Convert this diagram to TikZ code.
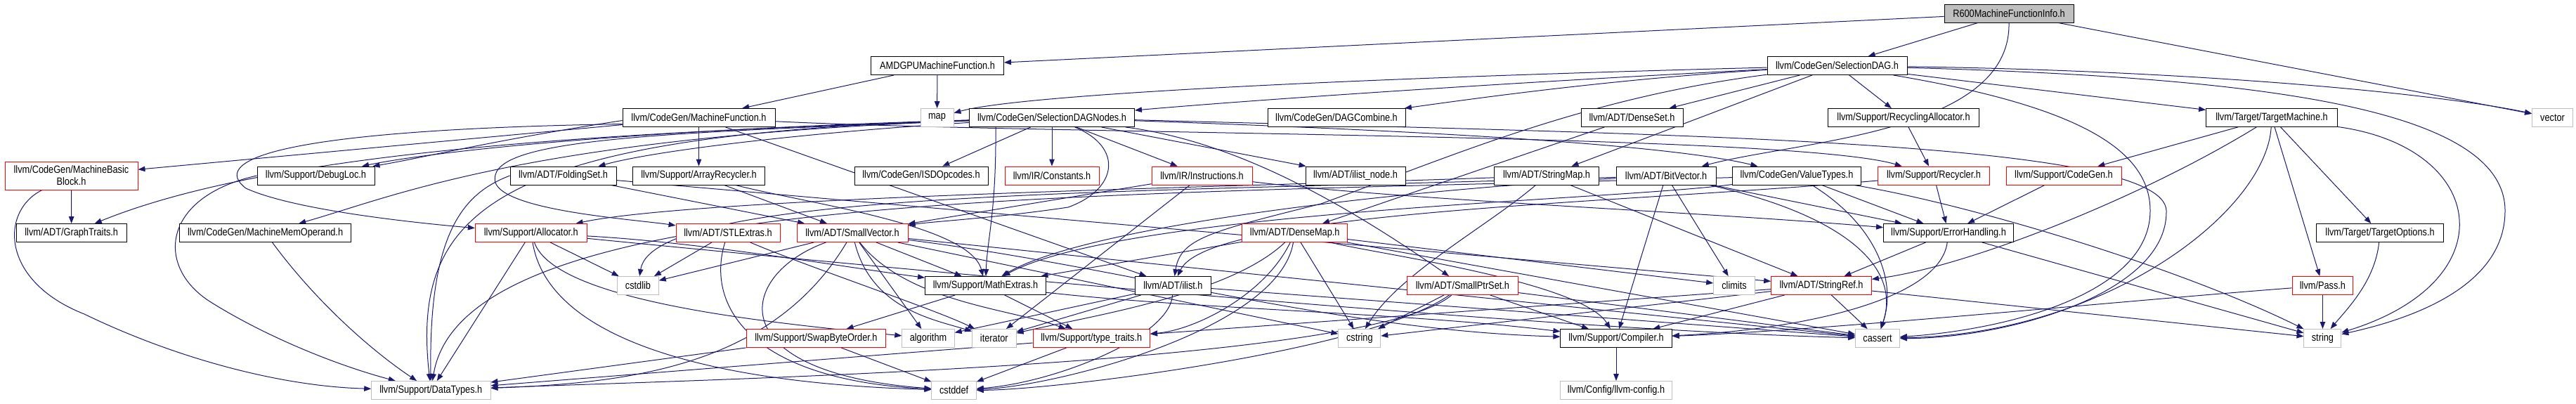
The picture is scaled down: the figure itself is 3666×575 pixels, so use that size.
\documentclass[tikz,border=0pt]{standalone}
\usepackage{fontspec}
\setmainfont{Liberation Sans}[FakeStretch=0.85]
\usetikzlibrary{arrows.meta,backgrounds}
\definecolor{edgec}{HTML}{191970}
\definecolor{gbord}{HTML}{BFBFBF}
\definecolor{rbord}{HTML}{FF0000}
\begin{document}
\begin{tikzpicture}[x=1pt,y=-1pt,
 box/.style={draw=black, fill=white, line width=0.9pt, minimum height=26pt, inner sep=0pt, align=center, font=\fontsize{15pt}{17pt}\selectfont},
 rbox/.style={box, draw=rbord},
 gbox/.style={box, draw=gbord},
 dep/.style={draw=edgec, line width=1pt, -{Triangle[length=10pt,width=7.5pt]}}]
\useasboundingbox (0,0) rectangle (3666,575);
% row 0
\node[box, fill=gbord, minimum width=184pt] (r600) at (2859,19) {R600MachineFunctionInfo.h};
% row 1
\node[box, minimum width=189pt] (amdgpu) at (1334,93.5) {AMDGPUMachineFunction.h};
\node[box, minimum width=199pt] (sdag) at (2614.5,93.5) {llvm/CodeGen/SelectionDAG.h};
% row 2
\node[box, minimum width=217pt] (mf) at (994.5,167.5) {llvm/CodeGen/MachineFunction.h};
\node[gbox, minimum width=47pt] (map) at (1333.5,167.5) {map};
\node[box, minimum width=235pt] (sdn) at (1497,167.5) {llvm/CodeGen/SelectionDAGNodes.h};
\node[box, minimum width=196pt] (dagc) at (1902,167.5) {llvm/CodeGen/DAGCombine.h};
\node[box, minimum width=145pt] (dset) at (2322.5,167.5) {llvm/ADT/DenseSet.h};
\node[box, minimum width=215pt] (recalloc) at (2709,167.5) {llvm/Support/RecyclingAllocator.h};
\node[box, minimum width=187pt] (tm) at (3233,167.5) {llvm/Target/TargetMachine.h};
\node[gbox, minimum width=58pt] (vector) at (3632.5,167.5) {vector};
% row 3
\node[rbox, minimum width=189pt, minimum height=40pt] (mbb) at (101.5,250) {llvm/CodeGen/MachineBasic\\Block.h};
\node[box, minimum width=167pt] (dloc) at (449.5,250) {llvm/Support/DebugLoc.h};
\node[box, minimum width=151pt] (fset) at (801.5,250) {llvm/ADT/FoldingSet.h};
\node[box, minimum width=188pt] (arec) at (994.5,250) {llvm/Support/ArrayRecycler.h};
\node[box, minimum width=190pt] (isd) at (1311,250) {llvm/CodeGen/ISDOpcodes.h};
\node[rbox, minimum width=134pt] (const) at (1497,250) {llvm/IR/Constants.h};
\node[rbox, minimum width=143pt] (instr) at (1710.5,250) {llvm/IR/Instructions.h};
\node[box, minimum width=142pt] (ilnode) at (1929,250) {llvm/ADT/ilist\_node.h};
\node[box, minimum width=149pt] (smap) at (2201,250) {llvm/ADT/StringMap.h};
\node[box, minimum width=142pt] (bitv) at (2371,250) {llvm/ADT/BitVector.h};
\node[box, minimum width=183pt] (vt) at (2557,250) {llvm/CodeGen/ValueTypes.h};
\node[rbox, minimum width=159pt] (recyc) at (2752,250) {llvm/Support/Recycler.h};
\node[rbox, minimum width=164pt] (cg) at (2937,250) {llvm/Support/CodeGen.h};
% row 4
\node[box, minimum width=157pt] (gt) at (101.7,331.5) {llvm/ADT/GraphTraits.h};
\node[box, minimum width=244pt] (mmo) at (377.6,331.5) {llvm/CodeGen/MachineMemOperand.h};
\node[rbox, minimum width=159pt] (alloc) at (755.8,331.5) {llvm/Support/Allocator.h};
\node[rbox, minimum width=148pt] (stl) at (1036,331.5) {llvm/ADT/STLExtras.h};
\node[rbox, minimum width=158pt] (svec) at (1213,331.5) {llvm/ADT/SmallVector.h};
\node[rbox, minimum width=150pt] (dmap) at (1842.7,331.5) {llvm/ADT/DenseMap.h};
\node[box, minimum width=185pt] (errh) at (2773,331.5) {llvm/Support/ErrorHandling.h};
\node[box, minimum width=181pt] (topt) at (3387,331.5) {llvm/Target/TargetOptions.h};
% row 5
\node[gbox, minimum width=58.5pt] (cstdlib) at (908,406.5) {cstdlib};
\node[box, minimum width=172pt] (mathx) at (1402.5,406.5) {llvm/Support/MathExtras.h};
\node[box, minimum width=108pt] (ilist) at (1669.4,406.5) {llvm/ADT/ilist.h};
\node[rbox, minimum width=158.7pt] (sps) at (2081.4,406.5) {llvm/ADT/SmallPtrSet.h};
\node[gbox, minimum width=58.7pt] (climits) at (2468,406.5) {climits};
\node[rbox, minimum width=142.7pt] (sref) at (2592,406.5) {llvm/ADT/StringRef.h};
\node[rbox, minimum width=86.7pt] (pass) at (3305.4,406.5) {llvm/Pass.h};
% row 6
\node[rbox, minimum width=198.7pt] (swap) at (1161.4,481.5) {llvm/Support/SwapByteOrder.h};
\node[gbox, minimum width=74.5pt] (algorithm) at (1321,481.5) {algorithm};
\node[gbox, minimum width=62.5pt] (iterator) at (1414.8,481.5) {iterator};
\node[rbox, minimum width=166.6pt] (tt) at (1553.3,481.5) {llvm/Support/type\_traits.h};
\node[gbox, minimum width=60pt] (cstring) at (1934.8,481.5) {cstring};
\node[box, minimum width=158.4pt] (compiler) at (2300,481.5) {llvm/Support/Compiler.h};
\node[gbox, minimum width=63pt] (cassert) at (2672,481.5) {cassert};
\node[gbox, minimum width=53pt] (string) at (3305.4,481.5) {string};
% row 7
\node[gbox, minimum width=169.3pt] (dtypes) at (613.3,555.5) {llvm/Support/DataTypes.h};
\node[gbox, minimum width=63.4pt] (cstddef) at (1357.6,555.5) {cstddef};
\node[gbox, minimum width=158.4pt] (config) at (2300,555.5) {llvm/Config/llvm-config.h};

\begin{pgfonlayer}{background}
% R600MachineFunctionInfo.h
\draw[dep] (r600) -- (amdgpu);
\draw[dep] (r600) -- (sdag);
\draw[dep] (r600) -- (vector);
\draw[dep] (r600.south) .. controls (2862,190) and (2560,200) .. (bitv);
% AMDGPUMachineFunction.h
\draw[dep] (amdgpu) -- (mf);
\draw[dep] (amdgpu) -- (map);
% SelectionDAG.h
\draw[dep] (sdag) .. controls (1900,112) and (1450,135) .. (map);
\draw[dep] (sdag) .. controls (2100,120) and (1750,145) .. (sdn);
\draw[dep] (sdag) .. controls (2300,112) and (2100,140) .. (dagc);
\draw[dep] (sdag) .. controls (2250,140) and (2060,225) .. (1880,290) .. controls (1720,330) and (1680,340) .. (ilist);
\draw[dep] (sdag) -- (dset);
\draw[dep] (sdag) -- (smap);
\draw[dep] (sdag) -- (recalloc);
\draw[dep] (sdag) -- (tm);
\draw[dep] (sdag) .. controls (3100,100) and (3450,130) .. (vector);
\draw[dep] (sdag) .. controls (3200,110) and (3565,150) .. (3565,300) .. controls (3565,400) and (3450,450) .. (string);
\draw[dep] (sdag) .. controls (2950,150) and (3060,210) .. (3060,300) .. controls (3060,420) and (2850,470) .. (cassert);
% MachineFunction.h
\draw[dep] (mf) -- (mbb);
\draw[dep] ([yshift=-4pt]mf.west) .. controls (700,200) and (600,225) .. (dloc);
\draw[dep] ([yshift=-9pt]mf.west) .. controls (380,185) and (300,230) .. (350,268) .. controls (420,300) and (600,318) .. (alloc);
\draw[dep] (mf) -- (arec);
\draw[dep] (mf) -- (ilist);
\draw[dep] (mf) .. controls (1500,192) and (2550,190) .. (recyc);
% SelectionDAGNodes.h
\draw[dep] (sdn) -- (isd);
\draw[dep] (sdn) -- (const);
\draw[dep] (sdn) -- (instr);
\draw[dep] (sdn) -- (ilnode);
\draw[dep] (sdn) .. controls (900,188) and (400,210) .. (gt);
\draw[dep] (sdn) .. controls (900,185) and (620,215) .. (dloc);
\draw[dep] (sdn) .. controls (750,195) and (560,280) .. (mmo);
\draw[dep] (sdn) .. controls (1200,185) and (950,210) .. (fset);
\draw[dep] (sdn) .. controls (700,192) and (585,300) .. (dtypes);
\draw[dep] (sdn) .. controls (900,190) and (690,200) .. (705,260) .. controls (720,300) and (900,312) .. (stl);
\draw[dep] (sdn) .. controls (1600,210) and (1590,270) .. (1520,295) .. controls (1420,310) and (1330,315) .. (svec);
\draw[dep] ([xshift=-80pt]sdn.south) .. controls (1418,300) and (1405,340) .. (mathx);
\draw[dep] (sdn) .. controls (1750,200) and (1900,280) .. (sps);
\draw[dep] (sdn) .. controls (1900,182) and (2350,200) .. (vt);
\draw[dep] (sdn) .. controls (2400,192) and (3080,200) .. (3083,300) .. controls (3085,420) and (2850,482) .. (cassert);
% row 3 sources
\draw[dep] (mbb) -- (gt);
\draw[dep] (mbb) .. controls (0,300) and (0,400) .. (120,447) .. controls (250,510) and (400,550) .. (dtypes);
\draw[dep] (dloc.west) .. controls (230,280) and (220,380) .. (300,430) .. controls (380,480) and (480,520) .. (dtypes);
\draw[dep] (mmo) .. controls (450,430) and (530,500) .. (dtypes);
\draw[dep] (fset) -- (svec);
\draw[dep] (fset) -- (sref);
\draw[dep] (fset.west) .. controls (660,275) and (610,330) .. (dtypes);
\draw[dep] (arec) -- (svec);
\draw[dep] (arec) .. controls (1150,290) and (1380,320) .. (mathx);
\draw[dep] (instr) -- (svec);
\draw[dep] (instr) -- (iterator);
\draw[dep] (instr) .. controls (2000,285) and (2400,300) .. (errh);
\draw[dep] (smap) -- (sref);
\draw[dep] (smap) .. controls (1800,265) and (1000,280) .. (alloc);
\draw[dep] (smap) .. controls (2120,320) and (1990,390) .. (cstring);
\draw[dep] (bitv) -- (climits);
\draw[dep] (bitv) -- (errh);
\draw[dep] (bitv) .. controls (2600,300) and (2710,370) .. (cassert);
\draw[dep] (bitv) .. controls (2000,270) and (1550,320) .. (mathx);
\draw[dep] (bitv) .. controls (1600,275) and (930,270) .. (cstdlib);
\draw[dep] (bitv) -- (compiler);
\draw[dep] (vt) -- (errh);
\draw[dep] (vt) .. controls (2800,290) and (3100,380) .. (string);
\draw[dep] (vt) .. controls (2300,285) and (1600,300) .. (mathx);
\draw[dep] (vt) .. controls (1500,280) and (660,270) .. (dtypes);
\draw[dep] (vt) .. controls (2670,320) and (2700,400) .. (cassert);
\draw[dep] (recyc) -- (errh);
\draw[dep] (recyc) .. controls (2300,290) and (1720,300) .. (ilist);
\draw[dep] (recalloc) -- (recyc);
\draw[dep] (cg) -- (errh);
% TargetMachine.h
\draw[dep] (tm) -- (cg);
\draw[dep] (tm) .. controls (3050,280) and (2800,380) .. (sref);
\draw[dep] (tm) .. controls (3225,300) and (3000,475) .. (cassert);
\draw[dep] (tm) -- (pass);
\draw[dep] (tm) -- (topt);
\draw[dep] (tm) .. controls (3540,210) and (3570,400) .. (string);
\draw[dep] (topt) .. controls (3380,400) and (3340,440) .. (string);
\draw[dep] (pass) -- (string);
\draw[dep] (pass) .. controls (3000,430) and (2600,470) .. (compiler);
% ErrorHandling.h, StringRef.h
\draw[dep] (errh) -- (sref);
\draw[dep] (errh) .. controls (2760,430) and (2550,470) .. (compiler);
\draw[dep] (errh) -- (string);
\draw[dep] (sref) -- (tt);
\draw[dep] (sref) -- (cassert);
\draw[dep] (sref) -- (string);
\draw[dep] (sref) -- (cstring);
\draw[dep] (sref) -- (compiler);
% MathExtras.h, ilist.h
\draw[dep] (mathx) -- (swap);
\draw[dep] (mathx) -- (tt);
\draw[dep] (mathx) .. controls (1700,440) and (2000,445) .. (compiler);
\draw[dep] (ilist) -- (algorithm);
\draw[dep] (ilist) -- (iterator);
\draw[dep] (ilist) .. controls (1665,480) and (1500,545) .. (cstddef);
\draw[dep] (ilist) -- (cassert);
% SmallVector.h
\draw[dep] (svec) -- (cstdlib);
\draw[dep] (svec) -- (mathx);
\draw[dep] (svec) -- (algorithm);
\draw[dep] (svec) .. controls (1240,440) and (1330,455) .. (iterator);
\draw[dep] (svec) .. controls (1290,430) and (1440,440) .. (tt);
\draw[dep] (svec) .. controls (1050,390) and (1020,530) .. (cstddef);
\draw[dep] (svec) -- (cassert);
\draw[dep] (svec) -- (cstring);
\draw[dep] (svec) .. controls (1600,380) and (1900,470) .. (compiler);
\draw[dep] (svec) .. controls (1100,520) and (900,545) .. (dtypes);
% STLExtras.h, Allocator.h
\draw[dep] (stl) -- (cstdlib);
\draw[dep] (stl) .. controls (1005,430) and (1060,540) .. (cstddef);
\draw[dep] (stl) .. controls (1150,380) and (1330,440) .. (iterator);
\draw[dep] (alloc) -- (dtypes);
\draw[dep] (alloc) -- (cstdlib);
\draw[dep] (alloc) .. controls (790,430) and (1100,460) .. (algorithm);
\draw[dep] (alloc) .. controls (780,480) and (1000,545) .. (cstddef);
\draw[dep] (alloc) .. controls (1000,345) and (1200,380) .. (mathx);
\draw[dep] (alloc) .. controls (1300,385) and (2200,470) .. (cassert);
% DenseMap.h, DenseSet.h
\draw[dep] (dmap) -- (mathx);
\draw[dep] (dmap) .. controls (1800,420) and (1700,470) .. (tt);
\draw[dep] (dmap) .. controls (1820,470) and (1500,550) .. (cstddef);
\draw[dep] (dmap) .. controls (1750,420) and (1550,450) .. (iterator);
\draw[dep] (dmap) -- (cstring);
\draw[dep] (dmap) -- (climits);
\draw[dep] (dmap) .. controls (1950,360) and (2250,400) .. (compiler);
\draw[dep] (dmap) -- (cassert);
\draw[dep] (dset) -- (dmap);
% SmallPtrSet.h
\draw[dep] (sps) -- (compiler);
\draw[dep] (sps) -- (cstring);
\draw[dep] (sps) -- (cassert);
\draw[dep] (sps) .. controls (1950,520) and (1000,540) .. (dtypes);
\draw[dep] (sps) .. controls (1950,500) and (1500,555) .. (cstddef);
% bottom rows
\draw[dep] (swap) -- (dtypes);
\draw[dep] (swap) -- (cstddef);
\draw[dep] (tt) -- (dtypes);
\draw[dep] (tt) -- (cstddef);
\draw[dep] (compiler) -- (config);
\end{pgfonlayer}
\end{tikzpicture}
\end{document}
